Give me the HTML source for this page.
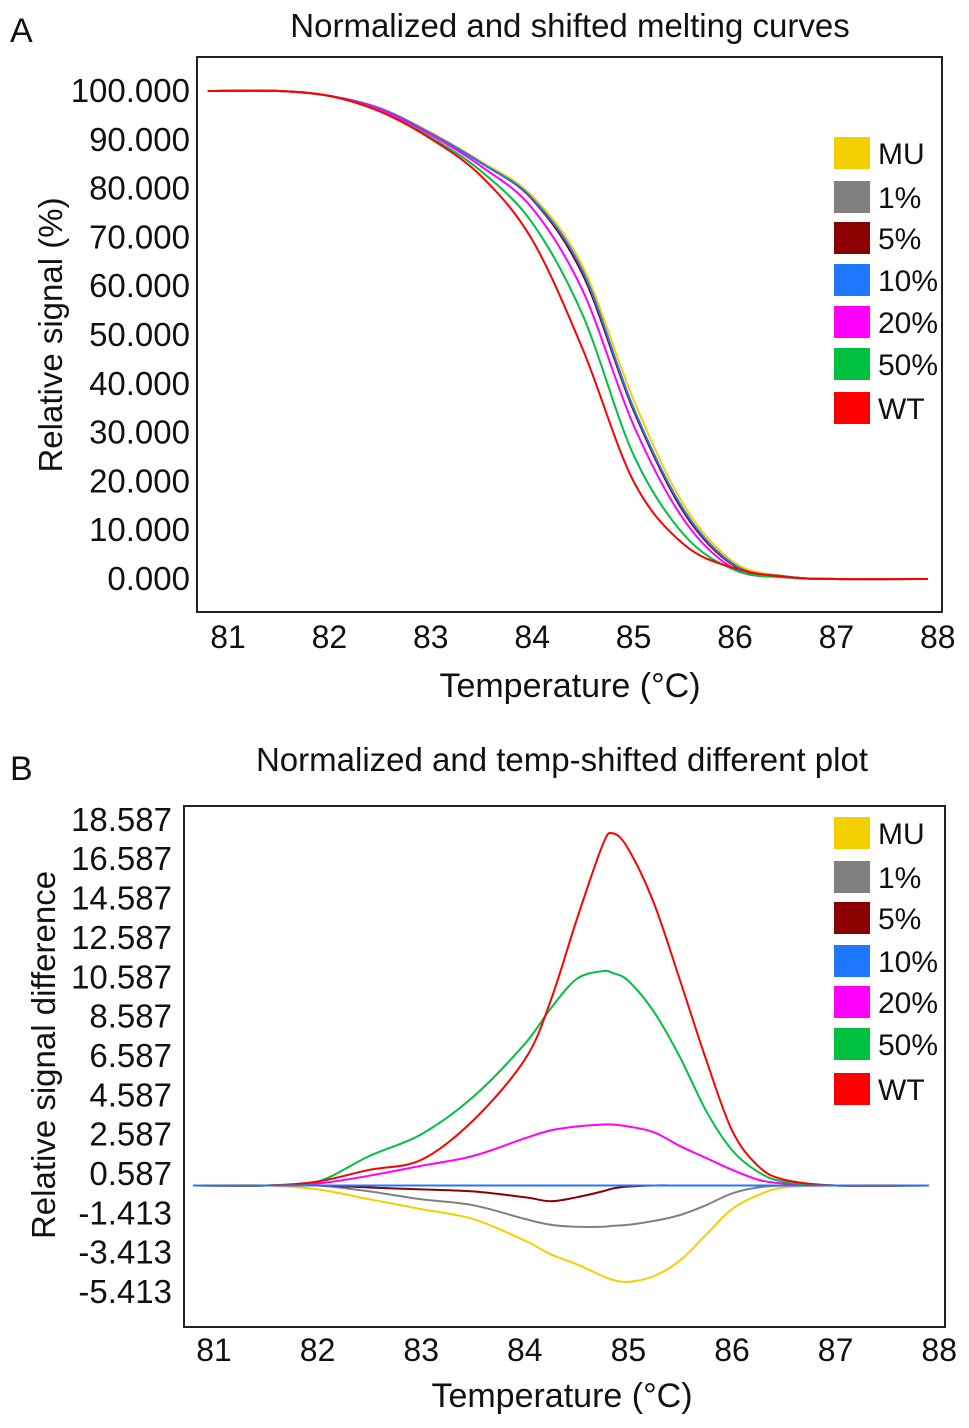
<!DOCTYPE html>
<html><head><meta charset="utf-8">
<style>
html,body{margin:0;padding:0;background:#fff;}
svg{display:block;font-family:"Liberation Sans",sans-serif;}
</style></head>
<body>
<svg id="fig" width="969" height="1428" viewBox="0 0 969 1428"></svg>
<script>
const seriesNames = ["MU","1%","5%","10%","20%","50%","WT"];
const seriesColors = ["#f5d000","#808080","#8b0000","#1e78ff","#ff00ff","#00c040","#ff0000"];

const tempsA = [80.8,81.5,82,82.5,83,83.5,84,84.5,85,85.5,86,86.5,87,87.9];
const aMU  = [100,100,99,96.5,91.5,85.5,78.5,64,36.7,15,3.3,0.6,0,0];
const a1   = [100,100,99,96.4,91.3,85.2,78,63,35,14,2.8,0.5,0,0];
const a5   = [100,100,99,96.4,91.3,85.2,77.8,62.3,34.5,13.5,2.6,0.5,0,0];
const a10  = [100,100,99,96.4,91.3,85.2,78,63,35,14,2.8,0.5,0,0];
const a20  = [100,100,99,96.2,91,84.5,76,59,31.5,12,2,0.4,0,0];
const a50  = [100,100,99,95.8,90.5,83.5,73,54,25.4,9,1.8,0.3,0,0];
const aWT  = [100,100,99,95.8,90.2,82.5,69.5,47,20,7,2.2,0.4,0,0];
const ticksAY = [0,10,20,30,40,50,60,70,80,90,100];
const ticksX = [81,82,83,84,85,86,87,88];

const tempsB = [80.8,81.5,82,82.5,83,83.5,84,84.25,84.5,84.75,84.85,85,85.25,85.5,85.75,86,86.25,86.5,87,87.9];
const bMU = [0,0,-0.2,-0.7,-1.2,-1.7,-2.8,-3.5,-4.0,-4.6,-4.8,-4.9,-4.6,-3.8,-2.5,-1.2,-0.5,-0.1,0,0];
const b1  = [0,0,0,-0.3,-0.7,-1.0,-1.7,-2.0,-2.1,-2.1,-2.05,-2.0,-1.8,-1.5,-1.0,-0.4,-0.1,0,0,0];
const b5  = [0,0,0,-0.1,-0.2,-0.3,-0.6,-0.8,-0.6,-0.3,-0.15,-0.05,0,0,0,0,0,0,0,0];
const b10 = [0,0,0,0,0,0,0,0,0,0,0,0,0,0,0,0,0,0,0,0];
const b20 = [0,0,0.1,0.5,1.0,1.5,2.4,2.8,3.0,3.1,3.1,3.0,2.7,2.0,1.4,0.8,0.3,0.1,0,0];
const b50 = [0,0,0.2,1.5,2.6,4.5,7.2,9.0,10.5,10.9,10.8,10.4,8.8,6.5,3.8,1.8,0.7,0.2,0,0];
const bWT = [0,0,0.2,0.8,1.3,3.3,6.4,9.4,13.5,17.3,17.9,17.1,14.3,10.4,6.4,2.8,1.0,0.3,0,0];
const ticksBY = [-5.413,-3.413,-1.413,0.587,2.587,4.587,6.587,8.587,10.587,12.587,14.587,16.587,18.587];

const NS="http://www.w3.org/2000/svg";
const svg=document.getElementById('fig');
function el(tag,attrs,parent){const e=document.createElementNS(NS,tag);for(const k in attrs)e.setAttribute(k,attrs[k]);(parent||svg).appendChild(e);return e;}
function txt(s,attrs,parent){const e=el('text',attrs,parent);e.textContent=s;return e;}
function pathD(xs,ys){
  let d="M"+xs[0].toFixed(1)+","+ys[0].toFixed(1);
  for(let i=0;i<xs.length-1;i++){
    const x0=xs[Math.max(i-1,0)],y0=ys[Math.max(i-1,0)],x1=xs[i],y1=ys[i],x2=xs[i+1],y2=ys[i+1],x3=xs[Math.min(i+2,xs.length-1)],y3=ys[Math.min(i+2,xs.length-1)];
    const c1x=x1+(x2-x0)/6,c1y=y1+(y2-y0)/6,c2x=x2-(x3-x1)/6,c2y=y2-(y3-y1)/6;
    d+=" C"+c1x.toFixed(1)+","+c1y.toFixed(1)+" "+c2x.toFixed(1)+","+c2y.toFixed(1)+" "+x2.toFixed(1)+","+y2.toFixed(1);
  }
  return d;
}
function panel(cfg){
  const g=el('g',{});
  
  
  const sx=t=>cfg.x0+(t-81)*cfg.pxPerC;
  const sy=v=>cfg.yZero-v*cfg.pxPerU;
  const box=el('rect',{x:cfg.box[0],y:cfg.box[1],width:cfg.box[2],height:cfg.box[3],fill:'none',stroke:'#222','stroke-width':2},g);
  
  
  const lt=txt(cfg.letter,{x:10,y:cfg.letterY,'font-size':34,fill:'#111'},g);
  
  
  const ti=txt(cfg.title,{x:cfg.titleX,y:cfg.titleY,'font-size':33,'text-anchor':'middle',fill:'#111'},g);
  
  
  cfg.yticks.forEach(v=>{
    const t=txt(v.toFixed(3),{x:cfg.yLabelX,y:sy(v)+11,'font-size':33,'text-anchor':'end',fill:'#111'},g);
    
    
  });
  ticksX.forEach(v=>{
    const t=txt(String(v),{x:sx(v),y:cfg.xLabelY,'font-size':32,'text-anchor':'middle',fill:'#111'},g);
    
    
  });
  const xt=txt('Temperature (°C)',{x:cfg.xTitleX,y:cfg.xTitleY,'font-size':34,'text-anchor':'middle',fill:'#111'},g);
  
  
  const yt=txt(cfg.yTitle,{x:0,y:0,'font-size':33,'text-anchor':'middle',fill:'#111',transform:'translate('+cfg.yTitlePos[0]+','+cfg.yTitlePos[1]+') rotate(-90)'},g);
  
  
  cfg.order.forEach(i=>{
    const xs=cfg.temps.map(sx), ys=cfg.series[i].map(sy);
    const p=el('path',{d:pathD(xs,ys),fill:'none',stroke:seriesColors[i],'stroke-width':2},g);
    
    
  });
  seriesNames.forEach((n,i)=>{
    const cy=cfg.legY[i];
    const r=el('rect',{x:834,y:cy-16,width:36,height:32,fill:seriesColors[i]},g);
    
    
    const t=txt(n,{x:878,y:cy+11,'font-size':30,fill:'#111'},g);
    
    
  });
}
panel({name:'panel-a-melting-curves',letter:'A',letterY:42,title:'Normalized and shifted melting curves',titleX:570,titleY:37,
  box:[197,57,745,555],x0:228,pxPerC:101.4,yZero:579,pxPerU:4.88,yticks:ticksAY,yLabelX:190,xLabelY:648,
  xTitleX:570,xTitleY:697,yTitle:'Relative signal (%)',yTitlePos:[62,335],
  temps:tempsA,series:[aMU,a1,a5,a10,a20,a50,aWT],order:[0,1,2,3,4,5,6],
  legY:[153,197,238,280,322,364,408]});
panel({name:'panel-b-difference-plot',letter:'B',letterY:780,title:'Normalized and temp-shifted different plot',titleX:562,titleY:771,
  box:[184,806,761,521],x0:214,pxPerC:103.6,yZero:1185.5,pxPerU:19.67,yticks:ticksBY,yLabelX:172,xLabelY:1361,
  xTitleX:562,xTitleY:1407,yTitle:'Relative signal difference',yTitlePos:[55,1055],
  temps:tempsB,series:[bMU,b1,b5,b10,b20,b50,bWT],order:[0,1,2,4,5,6,3],
  legY:[833,877,918,961,1002,1044,1089]});
</script>
</body></html>
